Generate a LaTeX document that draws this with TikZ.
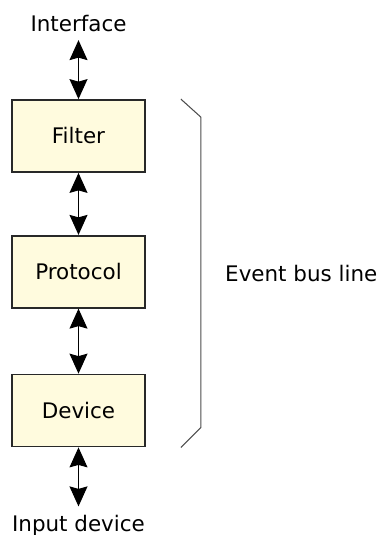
\documentclass[tikz,border=0pt]{standalone}
\usepackage{fontspec}
\setmainfont{DejaVu Sans}
\usetikzlibrary{arrows.meta, positioning, calc}

\definecolor{boxfill}{RGB}{255,251,222}
\definecolor{boxline}{RGB}{40,40,40}

\begin{document}
\begin{tikzpicture}[
    node distance=1.24cm,
    every node/.style={font=\fontsize{12.2}{15}\selectfont},
    block/.style={rectangle, draw=boxline, fill=boxfill, line width=1pt,
                  minimum width=2.66cm, minimum height=1.44cm, align=center},
    endlabel/.style={inner sep=0.16cm},
    arr/.style={{Stealth[length=0.4cm, width=0.36cm, inset=0.05cm]}-{Stealth[length=0.4cm, width=0.36cm, inset=0.05cm]},
                line width=0.6pt},
    brace/.style={draw=black!70, line width=0.6pt},
]
    \node[block] (filter) {Filter};
    \node[block, below=1.24cm of filter] (protocol) {Protocol};
    \node[block, below=1.3cm of protocol] (device) {Device};

    \node[endlabel, above=1.18cm of filter] (iface) {Interface};
    \node[endlabel, below=1.18cm of device] (input) {Input device};

    \draw[arr] (iface) -- (filter);
    \draw[arr] (filter) -- (protocol);
    \draw[arr] (protocol) -- (device);
    \draw[arr] (device) -- (input);

    % bracket along the right side
    \coordinate (bt) at ($(filter.north east)+(0.7,0)$);
    \coordinate (bb) at ($(device.south east)+(0.7,0)$);
    \draw[brace] (bt) -- ++(0.4,-0.36) -- ($(bb)+(0.4,0.4)$) -- (bb);

    \coordinate (bm) at ($(bt)!0.5!(bb)$);
    \node[right=0.88cm of bm, inner sep=0pt] (bus) {Event bus line};

    % fixed page frame
    \pgfresetboundingbox
    \useasboundingbox ($(filter.center)+(-1.57,2.72)$) rectangle ($(filter.center)+(6.07,-7.98)$);
\end{tikzpicture}
\end{document}
